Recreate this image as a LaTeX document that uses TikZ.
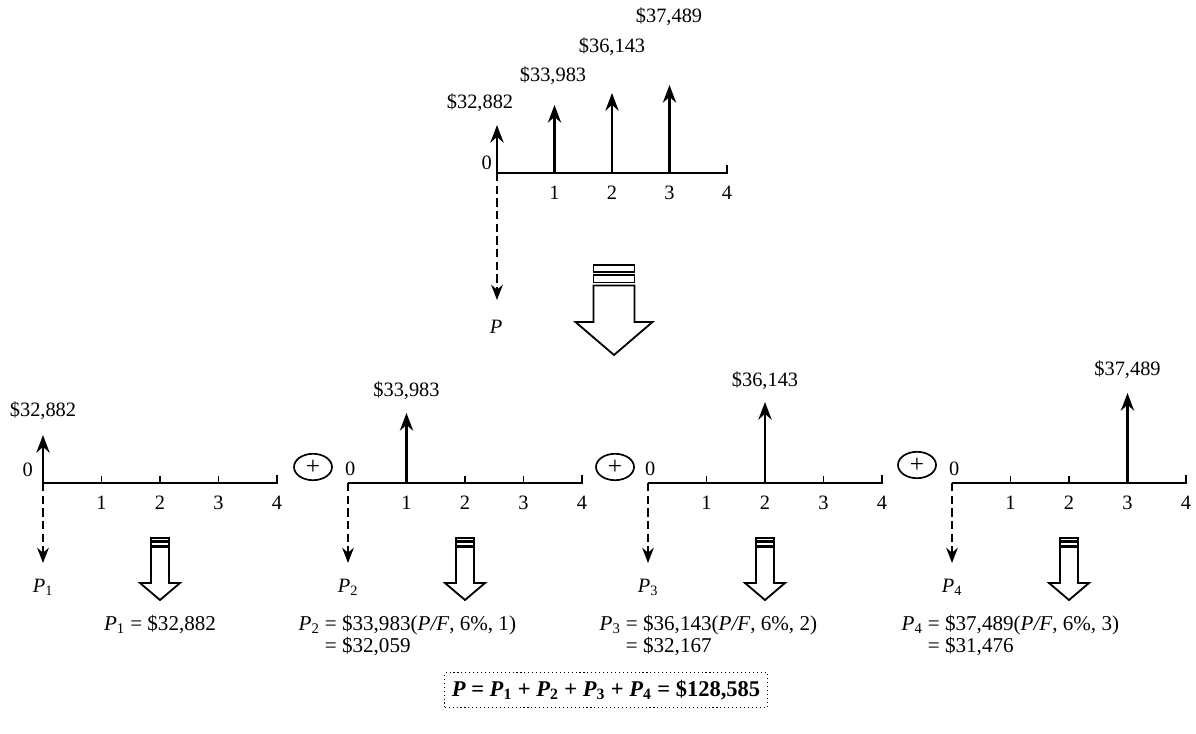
\documentclass[tikz,border=0pt]{standalone}
\usepackage{fontspec}
\setmainfont{Liberation Serif}
\usetikzlibrary{arrows.meta,positioning,shapes.geometric}

\tikzset{
  cfaxis/.style={line width=1.3pt, black},
  cftick/.style={line width=1.1pt},
  cfflow/.style={-{Stealth[length=4.4mm, width=3.3mm]}, line width=2pt},
  cfequiv/.style={-{Stealth[length=3.8mm, width=2.9mm]}, line width=1.5pt, dash pattern=on 6pt off 3pt},
  amount/.style={font=\fontsize{14.5}{16}\selectfont, inner sep=1pt},
  period/.style={font=\fontsize{14.5}{16}\selectfont, inner sep=1pt},
  formula/.style={font=\fontsize{15}{16}\selectfont, inner sep=1pt},
  oplus/.style={draw, ellipse, line width=1.2pt, minimum width=9.5mm, minimum height=6.6mm, inner sep=0pt, font=\fontsize{18}{18}\selectfont},
  hollow/.style={draw, line width=1.3pt, fill=white},
  sumbox/.style={draw, dotted, line width=0.8pt, font=\fontsize{16}{18}\selectfont\bfseries, inner xsep=5pt, inner ysep=5pt},
  pics/hollowdown/.style n args={4}{code={
    \draw[hollow] (-#1,0) rectangle (#1,0.35*#1);
    \draw[hollow] (-#1,0.5*#1) rectangle (#1,0.85*#1);
    \draw[hollow] (-#1,#1) -- (-#1,#3) -- (-#2,#3) -- (0,#4) -- (#2,#3) -- (#1,#3) -- (#1,#1) -- cycle;
  }}
}

\begin{document}
\begin{tikzpicture}[x=0.025cm, y=-0.025cm]
  \useasboundingbox (0,0) rectangle (1196,734);

  % combined cash flow
  \foreach \i in {0,...,4}{\coordinate (T\i) at ({497+57.5*\i},173);}
  \draw[cfaxis] (T0) -- (T4) -- ++(0,-8);
  \foreach \i in {1,2,3}{\draw[cftick] (T\i) -- ++(0,-7);}
  \foreach \i in {1,...,4}{\node[period, below=8pt of T\i] (tn\i) {\i};}
  \node[period, anchor=south east, xshift=-2.5pt, yshift=1pt] (tn0) at (T0) {0};
  \foreach \i/\tip/\amt/\lx/\ly in {0/125/{\$32,882}/480/103, 1/105/{\$33,983}/553/76, 2/93/{\$36,143}/612/47, 3/85/{\$37,489}/669/17}{
    \coordinate (Tup\i) at ({497+57.5*\i},\tip);
    \draw[cfflow] (T\i) -- (Tup\i);
    \node[amount] (tamt\i) at (\lx,\ly) {\amt};
  }
  \coordinate (Tpv) at (497,300);
  \draw[cfequiv] (T0) -- (Tpv);
  \node[period] (tP) at (496,327) {\textit{P}};
  \pic at (614,265) {hollowdown={20.5}{38.5}{57}{90}};

  % single payments
  \foreach \p/\ox/\pk/\tip/\amt/\ly in {1/43/0/435/{\$32,882}/411, 2/348/1/413/{\$33,983}/391, 3/648/2/402/{\$36,143}/381, 4/952/3/393/{\$37,489}/370}{
    \foreach \i in {0,...,4}{\coordinate (B\p-\i) at ({\ox+58.5*\i},483);}
    \draw[cfaxis] (B\p-0) -- (B\p-4) -- ++(0,-8);
    \foreach \i in {1,2,3}{\draw[cftick] (B\p-\i) -- ++(0,-7);}
    \foreach \i in {1,...,4}{\node[period, below=8pt of B\p-\i] (B\p-n\i) {\i};}
    \ifnum\p=1
      \node[period, anchor=south east, xshift=-6pt, yshift=3.5pt] (B\p-n0) at (B\p-0) {0};
    \else
      \node[period, anchor=south, xshift=1.5pt, yshift=4pt] (B\p-n0) at (B\p-0) {0};
    \fi
    \coordinate (B\p-up) at ({\ox+58.5*\pk},\tip);
    \draw[cfflow] (B\p-\pk) -- (B\p-up);
    \node[amount] (B\p-amt) at ({\ox+58.5*\pk},\ly) {\amt};
    \coordinate (B\p-pv) at (\ox,563);
    \draw[cfequiv] (B\p-0) -- (B\p-pv);
    \node[period] (B\p-P) at (\ox,587) {\textit{P}\textsubscript{\p}};
    \pic at ({\ox+117},538) {hollowdown={9}{20}{45}{62}};
  }
  \foreach \p/\cx/\cy in {2/313/467, 3/615/467, 4/917/465}{\node[oplus] (plus\p) at (\cx,\cy) {+};}

  % present worths
  \node[formula, anchor=base] (eq1) at (160,630) {\textit{P}\textsubscript{1} = \$32,882};
  \foreach \p/\lx/\amt/\pv in {2/297/{\$33,983}/{\$32,059}, 3/598/{\$36,143}/{\$32,167}, 4/900/{\$37,489}/{\$31,476}}{
    \node[formula, anchor=base west] (eq\p) at (\lx,630) {\begin{tabular}[t]{@{}r@{ }l@{}}\textit{P}\textsubscript{\p} & = \amt(\textit{P/F}, 6\%, \the\numexpr\p-1\relax)\\ & = \pv\end{tabular}};
  }
  \node[sumbox] (total) at (606,690) {\textit{P} = \textit{P}\textsubscript{1} + \textit{P}\textsubscript{2} + \textit{P}\textsubscript{3} + \textit{P}\textsubscript{4} = \$128,585};
\end{tikzpicture}
\end{document}
